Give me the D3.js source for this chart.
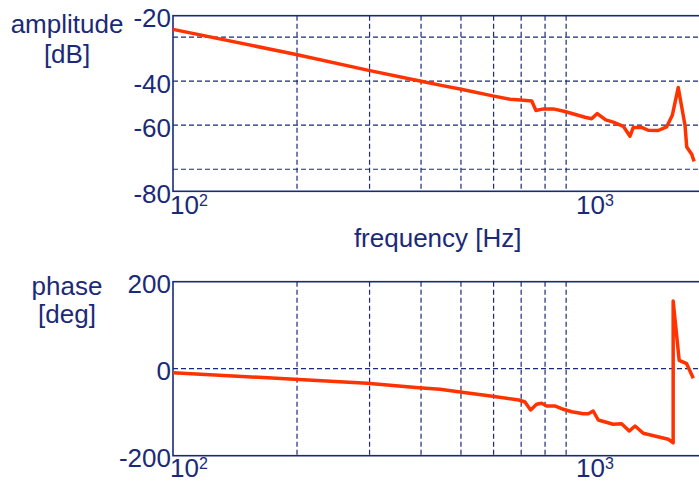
<!DOCTYPE html>
<html>
<head>
<meta charset="utf-8">
<script src="https://cdn.jsdelivr.net/npm/d3@7"></script>
<style>
  body { margin: 0; background: #fff; }
  text { font-family: "Liberation Sans", Arial, sans-serif; fill: #1b2a78; }
</style>
</head>
<body>
<div id="vis"></div>
<script>

// amplitude trace
var freqAmp = [100, 199, 298.5, 397.7, 444.6, 497.3, 597, 657.7, 698, 742.5,
  760.4, 792.5, 837.6, 893.8, 1000, 1038, 1071, 1123, 1171, 1239,
  1286, 1310, 1373, 1424, 1506, 1578, 1629, 1684, 1749, 1766, 1816, 1840];
var ampDb = [-16.5, -27.9, -35.1, -39.9, -41.8, -43.6, -46.7, -48.2, -48.6, -49.0,
  -53.3, -52.6, -52.6, -53.8, -56.4, -57.1, -54.7, -57.6, -58.6, -60.5,
  -65.0, -61.0, -61.0, -62.3, -62.4, -60.8, -55.5, -42.9, -60.0, -69.9, -73.2, -76.4];

// phase trace
var freqPhase = [100, 197, 296, 395, 444.6, 492.6, 590, 691, 715, 738,
  763, 785, 807, 845, 886, 929, 991, 1019, 1047, 1077,
  1171, 1227, 1281, 1323, 1385, 1593, 1637, 1637, 1693, 1765, 1832];
var phaseDeg = [-9.2, -24.4, -33.6, -43.7, -47, -52.9, -62.8, -72, -76.6, -94.9,
  -81.8, -79.5, -85.7, -85.7, -93.3, -98.9, -103.4, -103.4, -97.2, -117.9,
  -127.8, -126.4, -143.2, -131.7, -148.5, -162.3, -170.1, 155.6, 19.3, 11.5, -22.1];

var freqDomain = [100, 2000];
var freqGrid = [200, 300, 400, 500, 600, 700, 800, 900];
var freqTicks = [100, 1000];

var ampDomain = [-90, -10.3];
var ampGrid = [-20, -40, -60, -80];
// labels as they stand in the picture: outer two sit on the frame edges
var ampTickValues = [-10.3, -40, -60, -90];
var ampTickLabels = ['-20', '-40', '-60', '-80'];

var phaseDomain = [-200, 200];
var phaseGrid = [0];
var phaseTickValues = [200, 0, -200];
var phaseTickLabels = ['200', '0', '-200'];

var width = 699;
var height = 483;
var navy = '#1b2a78';
var curveColor = '#ff3300';

var svg = d3.select('#vis')
  .append('svg')
  .attr('width', width)
  .attr('height', height);

var x = d3.scaleLog()
  .domain(freqDomain)
  .range([173, 709]);

function panel(opts) {
  var y = d3.scaleLinear()
    .domain(opts.domain)
    .range([opts.bottom, opts.top]);

  var g = svg.append('g');

  // dashed grid
  g.selectAll('.vgrid')
    .data(freqGrid)
    .enter().append('line')
    .attr('x1', function (d) { return x(d); })
    .attr('x2', function (d) { return x(d); })
    .attr('y1', opts.top)
    .attr('y2', opts.bottom)
    .attr('stroke', navy)
    .attr('stroke-width', 1.2)
    .attr('stroke-dasharray', '5,3');

  g.selectAll('.hgrid')
    .data(opts.grid)
    .enter().append('line')
    .attr('x1', x.range()[0])
    .attr('x2', x.range()[1])
    .attr('y1', function (d) { return y(d); })
    .attr('y2', function (d) { return y(d); })
    .attr('stroke', navy)
    .attr('stroke-width', 1.2)
    .attr('stroke-dasharray', '5,3');

  // frame (right edge falls outside the window)
  g.append('rect')
    .attr('x', x.range()[0])
    .attr('y', opts.top)
    .attr('width', x.range()[1] - x.range()[0])
    .attr('height', opts.bottom - opts.top)
    .attr('fill', 'none')
    .attr('stroke', navy)
    .attr('stroke-width', 1.6);

  var line = d3.line()
    .x(function (d) { return x(d[0]); })
    .y(function (d) { return y(d[1]); });

  g.append('path')
    .datum(d3.zip(opts.freq, opts.values))
    .attr('d', line)
    .attr('fill', 'none')
    .attr('stroke', curveColor)
    .attr('stroke-width', 3.5)
    .attr('stroke-linejoin', 'round');

  // y tick labels
  g.selectAll('.ylab')
    .data(opts.tickValues)
    .enter().append('text')
    .attr('x', 171)
    .attr('y', function (d) { return y(d); })
    .attr('dy', '0.45em')
    .attr('text-anchor', 'end')
    .style('font-size', '26px')
    .text(function (d, i) { return opts.tickLabels[i]; });

  // x tick labels 10^n
  var xl = g.selectAll('.xlab')
    .data(freqTicks)
    .enter().append('text')
    .attr('x', function (d) { return Math.max(x(d) - 9, 170); })
    .attr('y', opts.bottom + opts.xLabelGap)
    .style('font-size', '26px');
  xl.append('tspan').text('10');
  xl.append('tspan')
    .attr('dy', -8)
    .style('font-size', '16px')
    .text(function (d) { return Math.round(Math.log10(d)); });

  // axis title on the left
  var t = g.append('text')
    .attr('text-anchor', 'middle')
    .style('font-size', '26px');
  t.append('tspan').attr('x', 67).attr('y', opts.titleY[0]).text(opts.title[0]);
  t.append('tspan').attr('x', 67).attr('y', opts.titleY[1]).text(opts.title[1]);

  return g;
}

panel({
  domain: ampDomain, top: 15.7, bottom: 191.3, xLabelGap: 23,
  grid: ampGrid, tickValues: ampTickValues, tickLabels: ampTickLabels,
  freq: freqAmp, values: ampDb,
  title: ['amplitude', '[dB]'], titleY: [33, 63]
});

panel({
  domain: phaseDomain, top: 281.7, bottom: 455.7, xLabelGap: 21,
  grid: phaseGrid, tickValues: phaseTickValues, tickLabels: phaseTickLabels,
  freq: freqPhase, values: phaseDeg,
  title: ['phase', '[deg]'], titleY: [295, 323]
});

svg.append('text')
  .attr('x', 437.7)
  .attr('y', 247)
  .attr('text-anchor', 'middle')
  .style('font-size', '26px')
  .text('frequency [Hz]');

</script>
</body>
</html>
